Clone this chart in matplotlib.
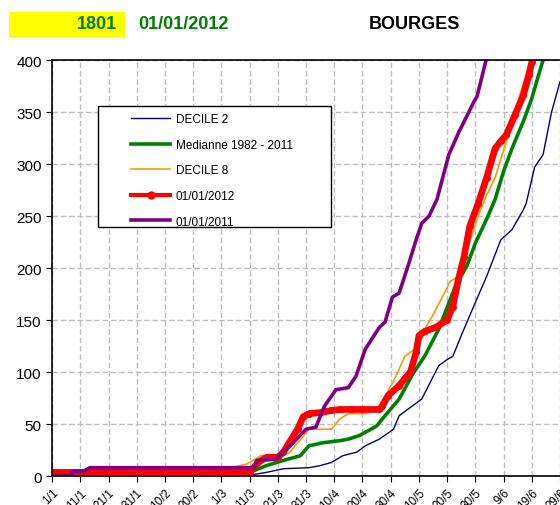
import matplotlib
matplotlib.use("Agg")
import matplotlib.pyplot as plt
from matplotlib.patches import Rectangle

plt.rcParams['font.family'] = ['Liberation Sans', 'DejaVu Sans']

# x = day of year (0 = 1/1), y = cumulated value
tick_days = [0, 10, 20, 30, 40, 50, 60, 70, 80, 90, 100, 110, 120, 130, 140, 150, 160, 170, 180]
tick_labels = ["1/1", "11/1", "21/1", "31/1", "10/2", "20/2", "1/3", "11/3", "21/3", "31/3",
               "10/4", "20/4", "30/4", "10/5", "20/5", "30/5", "9/6", "19/6", "29/6"]

d2_days = [0, 68, 76, 82, 91, 95, 99, 103, 108, 111, 116, 121, 123, 127, 131, 134, 137, 140,
           142, 145, 150, 154, 157, 159, 163, 167, 168, 171, 174, 177, 180]
d2_vals = [0, 0, 3.5, 7, 8, 10, 13, 19.5, 23, 29, 35.5, 45, 58, 66, 74, 90, 106, 112,
           115, 135, 167, 192, 213, 227, 237, 256, 262, 297, 309, 350, 379]

med_days = [0, 30, 60, 70, 76, 82, 88, 91, 96, 102, 105, 109, 115, 118, 123, 128, 132, 137,
            143, 147, 150, 154, 157, 160, 163, 167, 170, 172, 174]
med_vals = [0, 1, 2, 3.5, 10, 15, 19.5, 29, 32, 34, 35.5, 39, 48, 58, 74, 99, 115, 141,
            183, 202, 224, 247, 266, 293, 315, 341, 363, 382, 400]

d8_days = [0, 20, 40, 55, 64, 69, 74, 79, 84, 88, 91, 99, 102, 105, 111, 115, 118, 121, 125,
           129, 132, 135, 140, 141, 144, 148, 151, 154, 157, 161, 162, 169, 170]
d8_vals = [0, 2, 5, 7, 8.3, 11.5, 19.5, 19.5, 22, 35, 45, 45, 55, 60, 60, 64, 77, 91, 115,
           123, 141, 155, 181, 187, 192, 225, 250, 270, 287, 322, 333, 395, 400]

y2012_days = [0, 10, 20, 30, 40, 50, 60, 70, 73, 76, 80, 82, 84, 87, 89, 91, 95, 99, 102, 106,
              110, 116, 117, 119, 123, 127, 129, 130, 132, 136, 140, 142, 144, 146, 148, 151,
              154, 157, 159, 161, 164, 167, 169, 170]
y2012_vals = [3.5, 3.5, 3.5, 3.5, 3.5, 3.5, 3.5, 3.5, 13, 18, 18, 23, 32, 45, 57, 60, 61, 63, 64, 64,
              64, 64, 67, 77, 87, 100, 119, 135, 139, 143, 150, 163, 189, 211, 240, 262,
              287, 315, 322, 328, 347, 366, 386, 398]

y2011_days = [0, 6.4, 7.4, 11, 13.4, 71.7, 72.5, 79, 84, 90, 93.5, 96.5, 100.6, 105, 107.7, 111,
              116, 118, 120.6, 123, 126.5, 129, 131, 133.6, 136.4, 140.6, 144.2, 147.7, 149.5,
              150.6, 153.8]
y2011_vals = [0, 0, 4.5, 4.5, 8, 8, 15, 16, 28, 45, 47, 67, 83, 85, 96, 122,
              143, 148, 172, 176, 205, 227, 243, 250, 266, 309, 331, 350, 360,
              365, 400]

fig = plt.figure(figsize=(5.6, 5.06), dpi=100)
ax = fig.add_axes([0.093, 0.0573, 0.907, 0.822])

ax.plot(d2_days, d2_vals, color="#000080", linewidth=1, label="DECILE 2")
ax.plot(med_days, med_vals, color="#008000", linewidth=2.6, label="Medianne 1982 - 2011")
ax.plot(d8_days, d8_vals, color="#FF9900", linewidth=1.2, label="DECILE 8")
ax.plot(y2012_days, y2012_vals, color="#FF0000", linewidth=4.8, marker="o", markersize=4,
        label="01/01/2012")
ax.plot(y2011_days, y2011_vals, color="#800080", linewidth=2.6, label="01/01/2011")

ax.set_xlim(0, 180)
ax.set_ylim(0, 400)
ax.set_xticks(tick_days)
ax.set_xticklabels(tick_labels, rotation=45, ha="right", rotation_mode="anchor", fontsize=8.5)
ax.set_yticks(range(0, 401, 50))
ax.tick_params(axis="y", labelsize=11, length=4, direction="out")
ax.tick_params(axis="x", length=4, direction="out")
ax.grid(True, color="#bfbfbf", linestyle=(0, (4, 2)), linewidth=1)
ax.set_axisbelow(True)
ax.spines["right"].set_visible(False)
for s in ["left", "bottom", "top"]:
    ax.spines[s].set_color("black")
    ax.spines[s].set_linewidth(1.2)

# legend box
ax.add_patch(Rectangle((0.0906, 0.599), 0.458, 0.29, transform=ax.transAxes,
                       facecolor="white", edgecolor="black", linewidth=1, zorder=5))
leg = ax.legend(loc="upper left", bbox_to_anchor=(0.1555, 0.872), frameon=False,
                fontsize=8.5, handlelength=3.3, handletextpad=0.5, labelspacing=1.15,
                borderpad=0, borderaxespad=0)
leg.set_zorder(6)
red_handle = leg.legend_handles[3]
red_handle.set_linewidth(3)
red_handle.set_markersize(5)

# header
fig.patches.append(Rectangle((0.016, 0.925), 0.207, 0.0494, transform=fig.transFigure,
                             facecolor="yellow", edgecolor="none"))
fig.text(0.209, 0.9506, "1801", color="green", fontsize=13, fontweight="bold",
         ha="right", va="center")
fig.text(0.246, 0.9506, "01/01/2012", color="green", fontsize=13, fontweight="bold",
         ha="left", va="center")
fig.text(0.659, 0.9506, "BOURGES", color="black", fontsize=13, fontweight="bold",
         ha="left", va="center")

fig.savefig("out.png", dpi=100)
